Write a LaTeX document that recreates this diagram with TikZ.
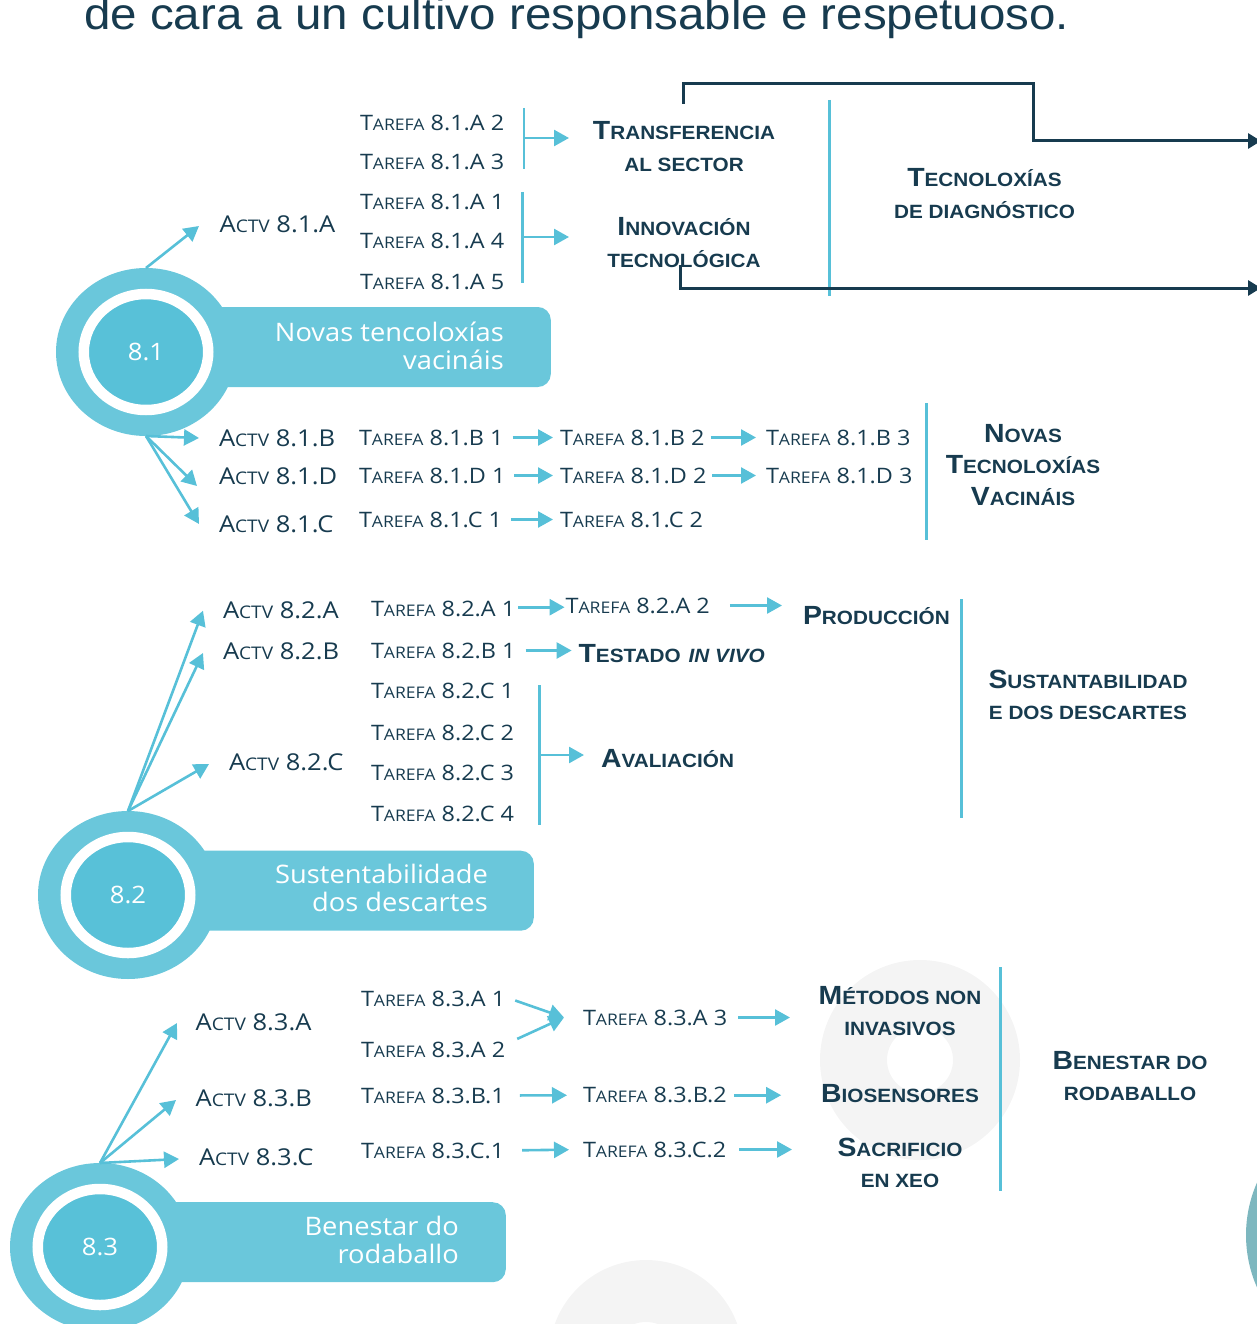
\documentclass[tikz,border=0pt]{standalone}
\usepackage{fontspec}
\usetikzlibrary{arrows.meta,shapes.geometric}
\setmainfont{Open Sans}
\newfontfamily\ttlfont[FakeStretch=1.07]{Liberation Sans}
\newfontfamily\lblfont[FakeStretch=1.1]{Open Sans}
\newfontfamily\lblsmall[FakeStretch=1.1,Scale=0.75]{Open Sans}
\newfontfamily\hdfont[FakeStretch=1.08]{Liberation Sans}
\newfontfamily\hdsmall[FakeStretch=1.08,Scale=0.73]{Liberation Sans}
\newfontfamily\bnfont[FakeStretch=1.07]{Open Sans}

\definecolor{navy}{HTML}{173B4F}
\definecolor{cy}{HTML}{57C0D8}
\definecolor{ringc}{HTML}{6AC7DB}
\definecolor{corec}{HTML}{58C1D8}
\definecolor{banc}{HTML}{6AC7DB}
\definecolor{bgc}{HTML}{F4F4F4}
\definecolor{tealc}{HTML}{7DB7BF}

% small-capital look: full-size initial, reduced capitals after it
\newcommand\Ls[2]{#1{\lblsmall #2}}
\newcommand\Hs[2]{#1{\hdsmall #2}}
\newcommand\stack[2][c]{\begin{tabular}[t]{@{}#1@{}}#2\end{tabular}}

\begin{document}
\begin{tikzpicture}[x=1pt,y=-1pt,
  lbl/.style={font=\fontsize{21.3}{24}\selectfont\lblfont, text=navy, inner sep=0pt,
    outer sep=0pt, anchor=base west, text height=15pt, text depth=0pt},
  actv/.style={lbl, font=\fontsize{23.2}{26}\selectfont\lblfont, text height=16pt},
  hd/.style={font=\fontsize{26.3}{31.5}\selectfont\hdfont\bfseries, text=navy,
    inner sep=0pt, outer sep=0pt, anchor=base},
  hdw/.style={hd, anchor=base west, text height=18.5pt, text depth=0pt},
  banner/.style={fill=banc, rounded corners=13pt, minimum height=80pt, inner sep=0pt},
  bantxt/.style={font=\fontsize{25.5}{28.5}\selectfont\bnfont, text=white,
    inner sep=0pt, anchor=base east},
  ringout/.style={ellipse, fill=ringc, minimum width=180pt, minimum height=168pt,
    inner sep=0pt, outer sep=0pt},
  ringin/.style={ellipse, fill=corec, draw=white, line width=10.5pt,
    minimum width=124.5pt, minimum height=116pt, inner sep=0pt, outer sep=0pt,
    text=white, font=\fontsize{24}{24}\selectfont\bnfont},
  ca/.style={draw=cy, line width=2.6pt, -{Triangle[length=15pt,width=16pt]}},
  cl/.style={draw=cy, line width=2.5pt},
  sep/.style={draw=cy, line width=3pt},
  dk/.style={draw=navy, line width=3pt, -{Triangle[length=13pt,width=15pt]}}
]
\useasboundingbox (0,0) rectangle (1256,1324);

% ---------- soft background discs ----------
\fill[bgc, even odd rule] (920,1060) circle[radius=100pt] (920,1060) circle[radius=33pt];
\fill[bgc, even odd rule] (646,1357) circle[radius=97pt] (646,1357) circle[radius=35pt];
\fill[tealc] (1376,1235) circle[radius=130pt];

% ---------- heading ----------
\node[anchor=base west, font=\fontsize{44.4}{50}\selectfont\ttlfont, text=navy, inner sep=0pt]
  (title) at (84,30) {de cara a un cultivo responsable e respetuoso.};

% ---------- banners and numbered discs ----------
\node[banner, minimum width=360pt, anchor=east] (ban81) at (551,347) {};
\node[banner, minimum width=360pt, anchor=east] (ban82) at (534,890.7) {};
\node[banner, minimum width=345pt, anchor=east] (ban83) at (506,1242.2) {};

\node[ringout] (c81) at (146,352) {};
\node[ringin] (n81) at (146,352) {8.1};
\node[ringout] (c82) at (128,895) {};
\node[ringin] (n82) at (128,895) {8.2};
\node[ringout] (c83) at (100,1247) {};
\node[ringin] (n83) at (100,1247) {8.3};

\node[bantxt] (bt81) at (504,341) {\stack[r]{Novas tencoloxías\\vacináis}};
\node[bantxt] (bt82) at (488,883) {\stack[r]{Sustentabilidade\\dos descartes}};
\node[bantxt] (bt83) at (459,1235) {\stack[r]{Benestar do\\rodaballo}};

% ================= 8.1 =================
\node[actv] (a81A) at (219.6,233) {\Ls{A}{CTV} 8.1.A};
\node[lbl] (t81A2) at (360,130.7) {\Ls{T}{AREFA} 8.1.A 2};
\node[lbl] (t81A3) at (360,170) {\Ls{T}{AREFA} 8.1.A 3};
\node[lbl] (t81A1) at (360,210) {\Ls{T}{AREFA} 8.1.A 1};
\node[lbl] (t81A4) at (360,249) {\Ls{T}{AREFA} 8.1.A 4};
\node[lbl] (t81A5) at (360,289) {\Ls{T}{AREFA} 8.1.A 5};

\node[hd] (trans) at (684,140) {\stack{\Hs{T}{RANSFERENCIA}\\\Hs{}{AL SECTOR}}};
\node[hd] (innov) at (684,236) {\stack{\Hs{I}{NNOVACIÓN}\\\Hs{}{TECNOLÓGICA}}};
\node[hd] (tdiag) at (984.5,187) {\stack{\Hs{T}{ECNOLOXÍAS}\\\Hs{}{DE DIAGNÓSTICO}}};

\coordinate (k1t) at (524,108);   \coordinate (k1b) at (524,169);
\coordinate (k1m) at (524,138);   \coordinate (k1e) at (569,138);
\coordinate (k2t) at (522.5,192); \coordinate (k2b) at (522.5,283);
\coordinate (k2m) at (522.5,237); \coordinate (k2e) at (569,237);
\draw[cl] (k1t) -- (k1b);
\draw[ca] (k1m) -- (k1e);
\draw[cl] (k2t) -- (k2b);
\draw[ca] (k2m) -- (k2e);

\coordinate (s1t) at (829,100); \coordinate (s1b) at (829,296);
\draw[sep] (s1t) -- (s1b);

% outgoing links to the right
\coordinate (d1s) at (683,104); \coordinate (d1e) at (1261,141);
\coordinate (d2s) at (680,265); \coordinate (d2e) at (1261,288);
\draw[dk] (d1s) |- (1033,84) |- (d1e);
\draw[dk] (d2s) |- (d2e);

\coordinate (p81A) at (199,226);
\draw[ca] (c81.north) -- (p81A);

\node[actv] (a81B) at (219,446.7) {\Ls{A}{CTV} 8.1.B};
\node[actv] (a81D) at (219,484) {\Ls{A}{CTV} 8.1.D};
\node[actv] (a81C) at (219,532.7) {\Ls{A}{CTV} 8.1.C};
\coordinate (p81B) at (199,438);
\coordinate (p81D) at (197,486);
\coordinate (p81C) at (199,524);
\draw[ca] (c81.south) -- (p81B);
\draw[ca] (c81.south) -- (p81D);
\draw[ca] (c81.south) -- (p81C);

\node[lbl] (t81B1) at (359,445) {\Ls{T}{AREFA} 8.1.B 1};
\node[lbl] (t81B2) at (560,445) {\Ls{T}{AREFA} 8.1.B 2};
\node[lbl] (t81B3) at (766,445) {\Ls{T}{AREFA} 8.1.B 3};
\node[lbl] (t81D1) at (359,483) {\Ls{T}{AREFA} 8.1.D 1};
\node[lbl] (t81D2) at (560,483) {\Ls{T}{AREFA} 8.1.D 2};
\node[lbl] (t81D3) at (766,483) {\Ls{T}{AREFA} 8.1.D 3};
\node[lbl] (t81C1) at (359,527) {\Ls{T}{AREFA} 8.1.C 1};
\node[lbl] (t81C2) at (560,527) {\Ls{T}{AREFA} 8.1.C 2};

\draw[ca, shorten <=9pt, shorten >=7pt] (t81B1.east) -- (t81B2.west);
\draw[ca, shorten <=6pt, shorten >=10pt] (t81B2.east) -- (t81B3.west);
\draw[ca, shorten <=9pt, shorten >=7pt] (t81D1.east) -- (t81D2.west);
\draw[ca, shorten <=6pt, shorten >=10pt] (t81D2.east) -- (t81D3.west);
\draw[ca, shorten <=9pt, shorten >=7pt] (t81C1.east) -- (t81C2.west);

\coordinate (s2t) at (926,403); \coordinate (s2b) at (926,540);
\draw[sep] (s2t) -- (s2b);
\node[hd] (novas) at (1023,442) {\stack{\Hs{N}{OVAS}\\\Hs{T}{ECNOLOXÍAS}\\\Hs{V}{ACINÁIS}}};

% ================= 8.2 =================
\node[actv] (a82A) at (223,618) {\Ls{A}{CTV} 8.2.A};
\node[actv] (a82B) at (223,659) {\Ls{A}{CTV} 8.2.B};
\node[actv] (a82C) at (229,770) {\Ls{A}{CTV} 8.2.C};
\coordinate (p82A) at (203,610.7);
\coordinate (p82B) at (203,653);
\coordinate (p82C) at (209,764);
\draw[ca] (c82.north) -- (p82A);
\draw[ca] (c82.north) -- (p82B);
\draw[ca] (c82.north) -- (p82C);

\node[lbl] (t82A1) at (371,616.7) {\Ls{T}{AREFA} 8.2.A 1};
\node[lbl] (t82A2) at (565.6,613) {\Ls{T}{AREFA} 8.2.A 2};
\node[lbl] (t82B1) at (371,658) {\Ls{T}{AREFA} 8.2.B 1};
\node[lbl] (t82C1) at (371,698) {\Ls{T}{AREFA} 8.2.C 1};
\node[lbl] (t82C2) at (371,740) {\Ls{T}{AREFA} 8.2.C 2};
\node[lbl] (t82C3) at (371,780.7) {\Ls{T}{AREFA} 8.2.C 3};
\node[lbl] (t82C4) at (371,821.7) {\Ls{T}{AREFA} 8.2.C 4};

\node[hdw] (prod) at (803,624) {\Hs{P}{RODUCCIÓN}};
\node[hdw] (testado) at (578.6,662) {\Hs{T}{ESTADO} {\hdsmall\itshape IN VIVO}};
\node[hdw] (aval) at (601,767) {\Hs{A}{VALIACIÓN}};

\draw[ca, shorten <=3pt, shorten >=1pt] ([yshift=2pt]t82A1.east) -- ([yshift=2pt]t82A1.east -| t82A2.west);
\draw[ca, shorten <=20pt, shorten >=21pt] (t82A2.east) -- (t82A2.east -| prod.west);
\draw[ca, shorten <=10pt, shorten >=7pt] (t82B1.east) -- (t82B1.east -| testado.west);

\coordinate (k3t) at (539.6,685); \coordinate (k3b) at (539.6,825);
\coordinate (k3m) at (539.6,755); \coordinate (k3e) at (584,755);
\draw[cl] (k3t) -- (k3b);
\draw[ca] (k3m) -- (k3e);

\coordinate (s3t) at (961.7,599); \coordinate (s3b) at (961.7,818);
\draw[sep] (s3t) -- (s3b);
\node[hd] (susten) at (1088,688) {\stack{\Hs{S}{USTANTABILIDAD}\\\Hs{}{E DOS DESCARTES}}};

% ================= 8.3 =================
\node[actv] (a83A) at (195.7,1030.7) {\Ls{A}{CTV} 8.3.A};
\node[actv] (a83B) at (195.7,1106.7) {\Ls{A}{CTV} 8.3.B};
\node[actv] (a83C) at (199,1165) {\Ls{A}{CTV} 8.3.C};
\coordinate (p83A) at (177,1023);
\coordinate (p83B) at (176,1100);
\coordinate (p83C) at (179,1159);
\draw[ca] (c83.north) -- (p83A);
\draw[ca] (c83.north) -- (p83B);
\draw[ca] (c83.north) -- (p83C);

\node[lbl] (t83A1) at (361,1006) {\Ls{T}{AREFA} 8.3.A 1};
\node[lbl] (t83A2) at (361,1057) {\Ls{T}{AREFA} 8.3.A 2};
\node[lbl] (t83A3) at (583,1025) {\Ls{T}{AREFA} 8.3.A 3};
\node[lbl] (t83B1) at (361,1103) {\Ls{T}{AREFA} 8.3.B.1};
\node[lbl] (t83B2) at (583,1102.7) {\Ls{T}{AREFA} 8.3.B.2};
\node[lbl] (t83C1) at (361,1158) {\Ls{T}{AREFA} 8.3.C.1};
\node[lbl] (t83C2) at (583,1157) {\Ls{T}{AREFA} 8.3.C.2};

\node[hd] (metodos) at (900,1004) {\stack{\Hs{M}{ÉTODOS NON}\\\Hs{}{INVASIVOS}}};
\node[hdw, anchor=base] (bios) at (900,1102.7) {\Hs{B}{IOSENSORES}};
\node[hd] (sacr) at (900,1156) {\stack{\Hs{S}{ACRIFICIO}\\\Hs{}{EN XEO}}};

\coordinate (q83A) at (790,1017.6);
\coordinate (q83C) at (792,1149.6);
\draw[ca] ([xshift=10pt,yshift=-2pt]t83A1.east) -- ([xshift=-19pt]t83A3.west);
\draw[ca] ([xshift=12pt,yshift=10.6pt]t83A2.east) -- ([xshift=-19pt]t83A3.west);
\draw[ca, shorten <=11pt] (t83A3.east) -- (t83A3.east -| q83A);
\draw[ca, shorten <=15pt, shorten >=16pt] (t83B1.east) -- (t83B2.west);
\draw[ca, shorten <=7pt, shorten >=40pt] (t83B2.east) -- (t83B2.east -| bios.west);
\draw[ca, shorten <=18pt, shorten >=14pt] (t83C1.east) -- (t83C2.west);
\draw[ca, shorten <=13pt] (t83C2.east) -- (t83C2.east -| q83C);

\coordinate (s4t) at (1000,967); \coordinate (s4b) at (1000,1190.7);
\draw[sep] (s4t) -- (s4b);
\node[hd] (benestar) at (1130,1069) {\stack{\Hs{B}{ENESTAR DO}\\\Hs{}{RODABALLO}}};

\end{tikzpicture}
\end{document}
